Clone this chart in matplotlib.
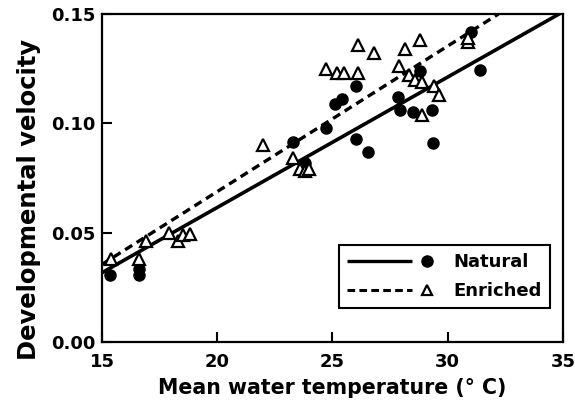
import matplotlib
matplotlib.use("Agg")
import matplotlib.pyplot as plt
from matplotlib.legend_handler import HandlerBase
from matplotlib.lines import Line2D

# natural (filled circles)
nat_temp = [15.35, 16.6, 16.6, 23.3, 23.8, 24.7, 25.1, 25.4, 26.0, 26.0, 26.55,
            27.85, 27.95, 28.5, 28.8, 29.3, 29.35, 31.0, 31.4]
nat_vel = [0.0307, 0.0305, 0.0335, 0.0913, 0.082, 0.0977, 0.109, 0.111, 0.117, 0.0927, 0.0867,
           0.112, 0.106, 0.105, 0.124, 0.106, 0.0908, 0.1417, 0.1243]

# enriched (open triangles)
enr_temp = [15.4, 16.6, 16.9, 17.9, 18.3, 18.5, 18.8, 22.0, 23.3, 23.6, 23.8, 24.0,
            24.7, 25.2, 25.5, 26.1, 26.1, 26.8, 27.9, 28.15, 28.8, 28.3, 28.6, 28.9,
            29.4, 29.6, 28.9, 30.9, 30.9]
enr_vel = [0.038, 0.038, 0.046, 0.050, 0.046, 0.049, 0.0495, 0.090, 0.084, 0.079, 0.078, 0.079,
           0.125, 0.123, 0.123, 0.136, 0.123, 0.132, 0.126, 0.134, 0.138, 0.122, 0.120, 0.119,
           0.117, 0.113, 0.104, 0.137, 0.139]

# regression line end points
nat_line_x = [15, 35]
nat_line_y = [0.0317, 0.151]
enr_line_x = [15, 32.2]
enr_line_y = [0.0355, 0.150]


class LineThenMarker(HandlerBase):
    # line segment on the left, marker a little to its right
    def create_artists(self, legend, orig_handle, xdescent, ydescent,
                       width, height, fontsize, trans):
        line, mark = orig_handle
        y = height / 2 - ydescent
        x0 = -xdescent
        l = Line2D([x0, x0 + 0.64 * width], [y, y])
        l.update_from(line)
        m = Line2D([x0 + 0.79 * width], [y])
        m.update_from(mark)
        l.set_transform(trans)
        m.set_transform(trans)
        return [l, m]


plt.rcParams['font.family'] = ['DejaVu Sans']

fig = plt.figure(figsize=(5.75, 4.07), dpi=100)
ax = fig.add_axes([0.1774, 0.1597, 0.8017, 0.8059])

dash = (0, (2.5, 1.6))
ax.plot(nat_line_x, nat_line_y, color='black', lw=2.6, solid_capstyle='butt', zorder=2)
ax.plot(enr_line_x, enr_line_y, color='black', lw=2.4, linestyle=dash, zorder=2)
ax.plot(nat_temp, nat_vel, 'o', color='black', ms=8, zorder=3)
ax.plot(enr_temp, enr_vel, '^', mfc='white', mec='black', mew=1.6, ms=9, zorder=4)

ax.set_xlim(15, 35)
ax.set_ylim(0, 0.15)
ax.set_xticks([15, 20, 25, 30, 35])
ax.set_yticks([0.0, 0.05, 0.10, 0.15])
ax.set_yticklabels(['0.00', '0.05', '0.10', '0.15'])
ax.tick_params(direction='in', length=7, width=1.5, labelsize=13, pad=5)
ax.tick_params(axis='x', pad=8)
for lab in ax.get_xticklabels() + ax.get_yticklabels():
    lab.set_fontweight('bold')
for s in ax.spines.values():
    s.set_linewidth(1.6)

ax.set_xlabel('Mean water temperature (° C)', fontsize=14.8, fontweight='bold', labelpad=5)
ax.set_ylabel('Developmental velocity', fontsize=17.5, fontweight='bold')
ax.yaxis.set_label_coords(-0.132, 0.435)

h_nat = (Line2D([], [], color='black', lw=2.4, solid_capstyle='butt'),
         Line2D([], [], marker='o', color='black', ls='none', ms=8))
h_enr = (Line2D([], [], color='black', lw=2.2, ls=(0, (2.5, 1.4))),
         Line2D([], [], marker='^', mfc='white', mec='black', mew=1.6, ls='none', ms=7.5))
leg = ax.legend([h_nat, h_enr], ['Natural', 'Enriched'],
                handler_map={tuple: LineThenMarker()},
                handlelength=5.6, loc='lower right', bbox_to_anchor=(0.972, 0.104),
                fancybox=False, edgecolor='black', framealpha=1,
                prop={'weight': 'bold', 'size': 13}, borderpad=0.44,
                labelspacing=0.6, handletextpad=0.3, borderaxespad=0)
leg.get_frame().set_linewidth(1.5)

fig.savefig('out.png', dpi=100)
